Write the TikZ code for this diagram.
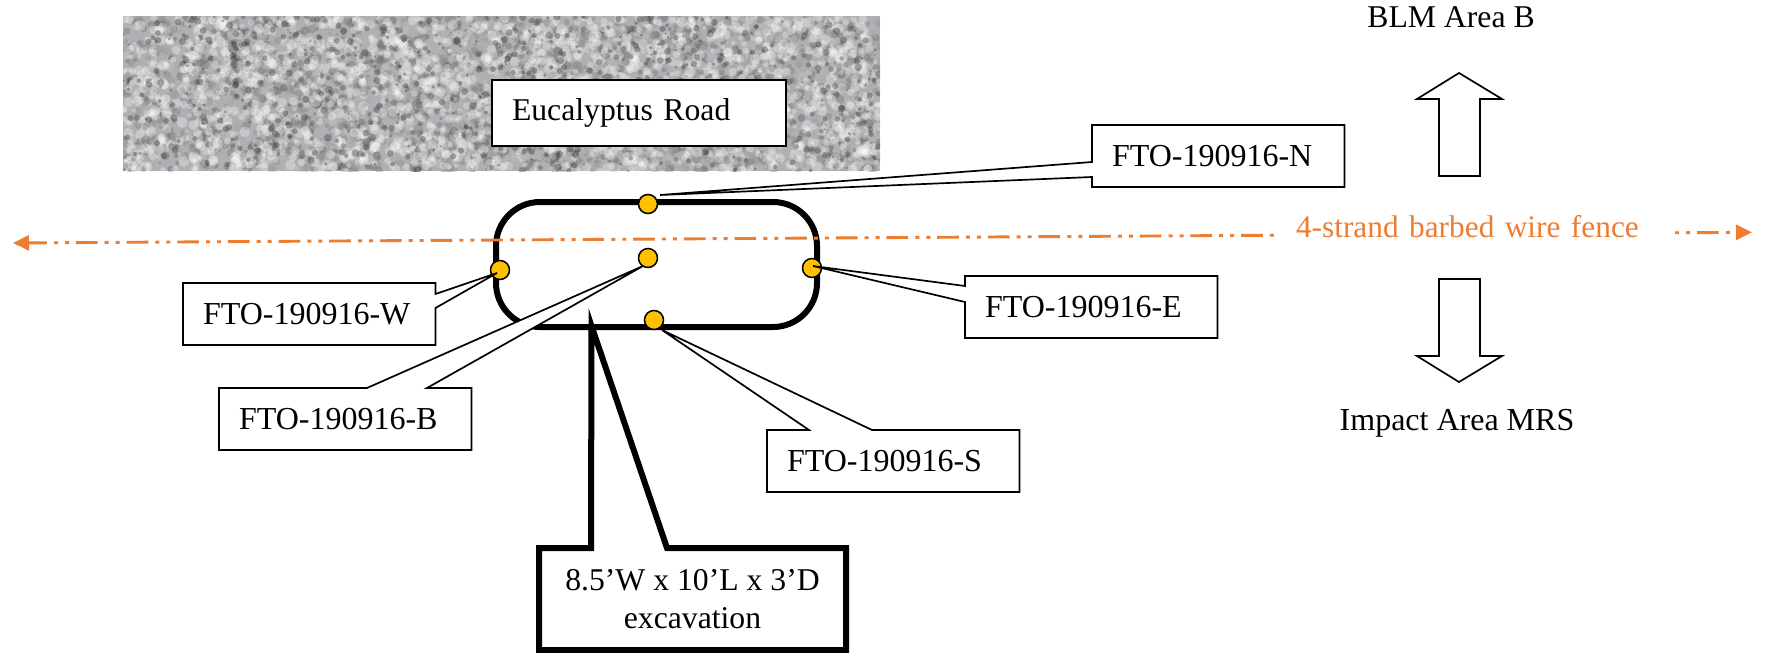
\documentclass[tikz,border=0pt]{standalone}
\usepackage{fontspec}
\setmainfont{Liberation Serif}
\usetikzlibrary{arrows.meta}
\pgfdeclarelayer{toptext}
\pgfsetlayers{main,toptext}
\definecolor{fenceorange}{HTML}{ED7D31}
\definecolor{sitegold}{HTML}{FFC000}
\definecolor{roadgray}{HTML}{B0B0B4}
\tikzset{
  plain/.style={font=\fontsize{15.85}{19}\selectfont,inner sep=0pt,outer sep=0pt},
  fieldbox/.style={plain,font=\fontsize{16}{19}\selectfont,anchor=north west,align=left,
                   inner xsep=10pt,text width=106.25pt,minimum width=126.25pt,minimum height=31pt},
  calltail/.style={draw=black,fill=white,line width=0.85pt},
  sitedot/.style={circle,draw=black,fill=sitegold,line width=0.75pt,minimum size=9.5pt,
                  inner sep=0pt,outer sep=0pt},
  areaarrow/.style={draw=black,fill=white,line width=0.85pt}
}
\begin{document}
\begin{tikzpicture}[x=0.5pt,y=-0.5pt]
  \useasboundingbox (0,0) rectangle (1769,653);
  % road surface
  \pgfmathsetseed{1909}
  \begin{scope}
    \clip (123,16) rectangle (880,171);
    \fill[roadgray] (123,16) rectangle (880,171);
    \foreach \i in {1,...,3600} {
      \pgfmathsetmacro{\px}{123+757*rnd}
      \pgfmathsetmacro{\py}{16+155*rnd}
      \pgfmathsetmacro{\pr}{1.5+3.5*rnd}
      \pgfmathsetmacro{\pg}{20+50*rnd}
      \fill[black!\pg!white,opacity=0.35] (\px,\py) circle (\pr);
    }
    \foreach \i in {1,...,2000} {
      \pgfmathsetmacro{\px}{123+757*rnd}
      \pgfmathsetmacro{\py}{16+155*rnd}
      \pgfmathsetmacro{\pr}{2+3.5*rnd}
      \fill[white,opacity=0.3] (\px,\py) circle (\pr);
    }
    \foreach \i in {1,...,700} {
      \pgfmathsetmacro{\px}{123+757*rnd}
      \pgfmathsetmacro{\py}{16+155*rnd}
      \pgfmathsetmacro{\pr}{1.2+2.6*rnd}
      \fill[black!75,opacity=0.4] (\px,\py) circle (\pr);
    }
  \end{scope}
  \node[fieldbox,draw=black,fill=white,font=\fontsize{15.85}{19}\selectfont,line width=1pt,
        text width=127pt,minimum width=147pt,minimum height=33pt] (road) at (492,80) {Eucalyptus Road};
  % excavation outline
  \node[draw=black,line width=3pt,rounded corners=22pt,minimum width=160.5pt,
        minimum height=62.5pt,inner sep=0pt,outer sep=0pt] (pit) at (656.5,264.5) {};
  % fence line and its label
  \coordinate (fencew) at (13,243);
  \coordinate (fencee) at (1752,232.3);
  \draw[fenceorange,line width=1.45pt,
        dash pattern=on 10.85pt off 3.55pt on 2pt off 3.5pt on 2pt off 3.43pt,dash phase=1.5pt,
        {Triangle[length=8pt,width=7.5pt]}-{Triangle[length=8pt,width=7.5pt]}] (fencew) -- (fencee);
  \node[plain,font=\fontsize{15.67}{19}\selectfont,anchor=base west,fill=white,text=fenceorange,
        align=left,inner xsep=8pt,text width=180pt] (fence) at (1280,237) {4-strand barbed wire fence};
  % sample points
  \node[sitedot] (siten) at (648,204) {};
  \node[sitedot] (siteb) at (648,258) {};
  \node[sitedot] (sitew) at (500,270) {};
  \node[sitedot] (sitee) at (812,268) {};
  \node[sitedot] (sites) at (654,320) {};
  \coordinate (tipn) at (660,195);
  \coordinate (tipb) at (643,266);
  \coordinate (tipw) at (497,273);
  \coordinate (tipe) at (813,266);
  \coordinate (tips) at (662,330);
  \coordinate (tipx) at (591.5,326);
  % callouts
  \begin{pgfonlayer}{toptext}
    \node[fieldbox] (fton) at (1092,125) {FTO-190916-N};
    \node[fieldbox] (ftoe) at (965,276) {FTO-190916-E};
    \node[fieldbox] (ftow) at (183,283) {FTO-190916-W};
    \node[fieldbox] (ftob) at (219,388) {FTO-190916-B};
    \node[fieldbox] (ftos) at (767,430) {FTO-190916-S};
    \node[plain,align=center,minimum width=153.5pt,minimum height=51pt] (size)
      at (692.5,599) {8.5’W x 10’L x 3’D\\excavation};
  \end{pgfonlayer}
  \draw[calltail] (fton.west |- 0,162) -- (tipn) -- (fton.west |- 0,177) -- (fton.south west)
    -- (fton.south east) -- (fton.north east) -- (fton.north west) -- cycle;
  \draw[calltail] (ftoe.west |- 0,286) -- (tipe) -- (ftoe.west |- 0,302) -- (ftoe.south west)
    -- (ftoe.south east) -- (ftoe.north east) -- (ftoe.north west) -- cycle;
  \draw[calltail] (ftow.east |- 0,294) -- (tipw) -- (ftow.east |- 0,308) -- (ftow.south east)
    -- (ftow.south west) -- (ftow.north west) -- (ftow.north east) -- cycle;
  \draw[calltail] (367,0 |- ftob.north) -- (tipb) -- (427,0 |- ftob.north) -- (ftob.north east)
    -- (ftob.south east) -- (ftob.south west) -- (ftob.north west) -- cycle;
  \draw[calltail] (809,0 |- ftos.north) -- (tips) -- (872,0 |- ftos.north) -- (ftos.north east)
    -- (ftos.south east) -- (ftos.south west) -- (ftos.north west) -- cycle;
  \draw[calltail,line width=3pt] (591,0 |- size.north) -- (tipx) -- (667,0 |- size.north)
    -- (size.north east) -- (size.south east) -- (size.south west) -- (size.north west) -- cycle;
  % area arrows
  \node[plain,anchor=base] (blm) at (1451,27) {BLM Area B};
  \node[plain,font=\fontsize{16}{19}\selectfont,anchor=base] (impact) at (1457,430) {Impact Area MRS};
  \draw[areaarrow] (1459,73) -- (1502,99) -- (1480,99) -- (1480,176) -- (1439,176)
    -- (1439,99) -- (1417,99) -- cycle;
  \draw[areaarrow] (1459,382) -- (1502,356) -- (1480,356) -- (1480,279) -- (1439,279)
    -- (1439,356) -- (1417,356) -- cycle;
\end{tikzpicture}
\end{document}
